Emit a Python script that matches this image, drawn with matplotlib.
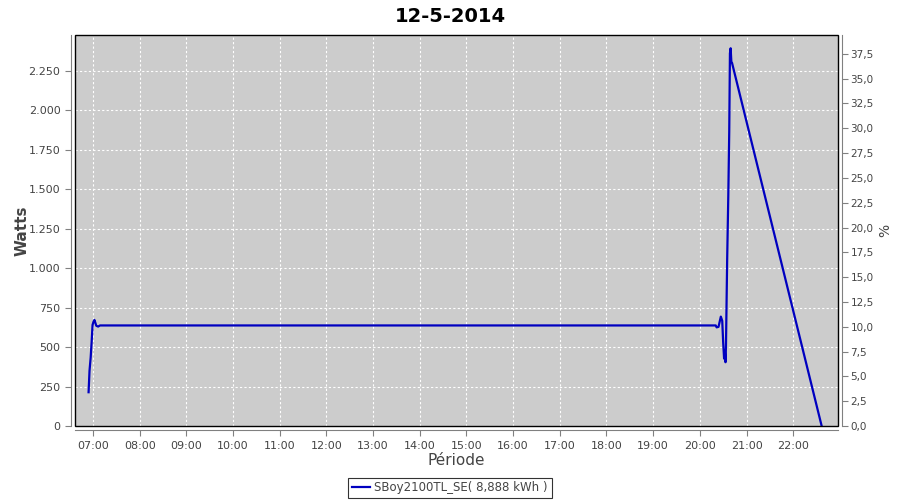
import matplotlib
matplotlib.use("Agg")
import matplotlib.pyplot as plt
from matplotlib.ticker import FuncFormatter, FixedLocator
from matplotlib.patches import Rectangle

# Data (hours as decimal, watts)
hours = [6.905, 6.925, 6.95, 6.97, 6.99, 7.01, 7.03, 7.05, 7.07, 7.11, 7.15,
         20.34, 20.36, 20.40, 20.45, 20.48, 20.50, 20.52, 20.535, 20.55, 20.56,
         20.585, 20.61, 20.63, 20.645, 20.66, 20.675, 20.69, 22.61]
watts = [214, 350, 435, 530, 640, 660, 672, 654, 635, 630, 637,
         637, 625, 628, 693, 666, 530, 427, 477, 404, 509,
         1043, 1462, 1866, 2361, 2393, 2308, 2300, 0]

title = "12-5-2014"
series_label = "SBoy2100TL_SE( 8,888 kWh )"
x_ticks = list(range(7, 23))
left_ticks = list(range(0, 2251, 250))
right_ticks = [i * 2.5 for i in range(16)]

fig = plt.figure(figsize=(9, 5), dpi=100)
ax = fig.add_axes([75/900, 1-426/500, (838-75)/900, (426-35)/500])
ax.set_facecolor("#cccccc")

ax.plot(hours, watts, color="#0000c0", lw=1.6, zorder=3)

ax.set_xlim(6.614, 22.96)
ax.set_ylim(0, 2477)
ax.xaxis.set_major_locator(FixedLocator(x_ticks))
ax.xaxis.set_major_formatter(FuncFormatter(lambda v, p: f"{int(round(v)):02d}:00"))
ax.yaxis.set_major_locator(FixedLocator(left_ticks))
ax.yaxis.set_major_formatter(FuncFormatter(lambda v, p: f"{int(v):,}".replace(",", ".")))

ax.grid(True, color="white", linestyle=(0, (2, 2)), lw=0.8)
ax.set_axisbelow(True)

ax2 = ax.twinx()
ax2.set_ylim(0, 39.4)
ax2.yaxis.set_major_locator(FixedLocator(right_ticks))
ax2.yaxis.set_major_formatter(FuncFormatter(lambda v, p: f"{v:.1f}".replace(".", ",")))

tick_col = "#444444"
for a in (ax, ax2):
    for s in a.spines.values():
        s.set_visible(False)
    a.tick_params(colors="#808080", labelcolor=tick_col, labelsize=8, length=4, width=0.8, direction="out")
ax2.tick_params(pad=2, labelsize=7.5)

ax.spines["left"].set_visible(True)
ax.spines["left"].set_position(("outward", 3))
ax.spines["left"].set_color("#808080")
ax.spines["bottom"].set_visible(True)
ax.spines["bottom"].set_position(("outward", 3))
ax.spines["bottom"].set_color("#808080")
ax2.spines["right"].set_visible(True)
ax2.spines["right"].set_position(("outward", 3))
ax2.spines["right"].set_color("#808080")

ax.add_patch(Rectangle((0, 0), 1, 1, transform=ax.transAxes, fill=False,
                       edgecolor="black", lw=1.0, zorder=5, clip_on=False))

ax.set_ylabel("Watts", fontsize=11, fontweight="bold", color=tick_col)
ax.yaxis.set_label_coords(-45/763, 0.5)
ax.set_xlabel("Période", fontsize=11, color=tick_col, labelpad=2)
ax2.set_ylabel("%", fontsize=10, color=tick_col)
ax2.yaxis.set_label_coords(1 + 40/763, 0.5)

fig.suptitle(title, fontsize=14, fontweight="bold", x=450/900, y=0.985)

leg = fig.legend(handles=ax.get_lines(), labels=[series_label], loc="center",
                 bbox_to_anchor=(450/900, 1-488/500), fontsize=8.5, frameon=True,
                 fancybox=False, edgecolor="black", handlelength=1.5,
                 borderpad=0.3, handletextpad=0.4)
leg.get_frame().set_linewidth(0.8)
for t in leg.get_texts():
    t.set_color(tick_col)

fig.savefig("out.png", dpi=100)
